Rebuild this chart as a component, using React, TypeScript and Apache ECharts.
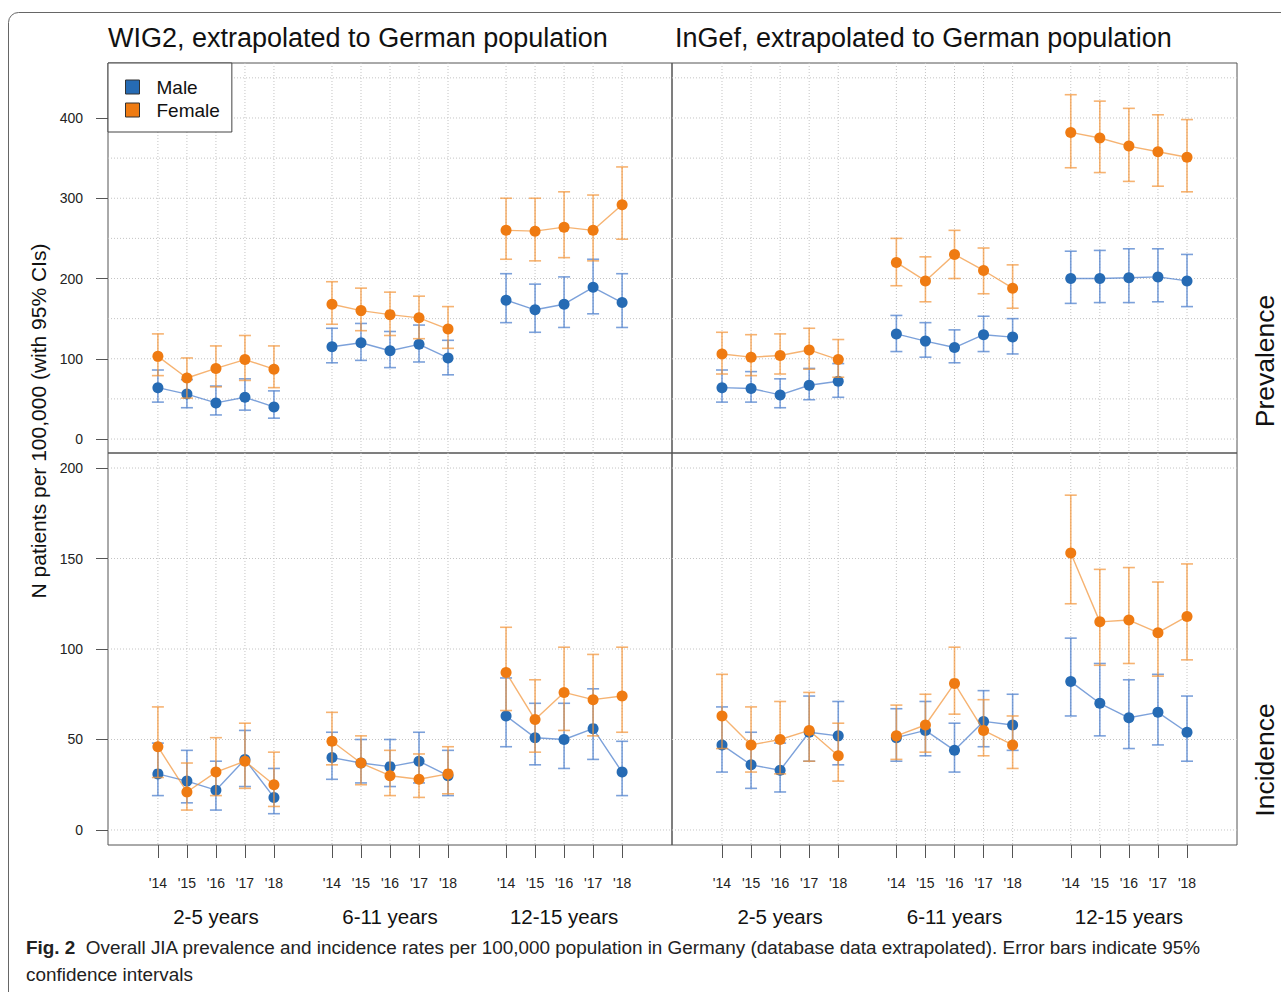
import React, { useEffect, useRef } from 'react';
import * as echarts from 'echarts';

// ---------- categories / ticks ----------
const years = ["'14", "'15", "'16", "'17", "'18"];
const ageGroups = ['2-5 years', '6-11 years', '12-15 years'];
const prevTicks = [0, 100, 200, 300, 400];
const prevGridValues = [0, 50, 100, 150, 200, 250, 300, 350, 400, 450];
const incTicks = [0, 50, 100, 150, 200];
const incGridValues = [0, 50, 100, 150, 200];

// ---------- WIG2 prevalence ----------
const wig2PrevMale = [64, 56, 45, 52, 40, 115, 120, 110, 118, 101, 173, 161, 168, 189, 170];
const wig2PrevMaleLo = [46, 39, 30, 36, 26, 95, 98, 89, 96, 80, 145, 133, 139, 156, 139];
const wig2PrevMaleHi = [86, 74, 66, 75, 60, 138, 144, 134, 142, 123, 206, 193, 202, 224, 206];
const wig2PrevFemale = [103, 76, 88, 99, 87, 168, 160, 155, 151, 137, 260, 259, 264, 260, 292];
const wig2PrevFemaleLo = [79, 51, 65, 73, 64, 143, 135, 129, 125, 113, 224, 222, 226, 222, 249];
const wig2PrevFemaleHi = [131, 101, 116, 129, 116, 196, 188, 183, 178, 165, 300, 300, 308, 304, 339];

// ---------- InGef prevalence ----------
const ingefPrevMale = [64, 63, 55, 67, 72, 131, 122, 114, 130, 127, 200, 200, 201, 202, 197];
const ingefPrevMaleLo = [46, 46, 39, 49, 52, 109, 102, 95, 109, 106, 169, 170, 170, 171, 165];
const ingefPrevMaleHi = [86, 84, 75, 88, 94, 154, 145, 136, 153, 150, 234, 235, 237, 237, 230];
const ingefPrevFemale = [106, 102, 104, 111, 99, 220, 197, 230, 210, 188, 382, 375, 365, 358, 351];
const ingefPrevFemaleLo = [81, 79, 81, 87, 77, 191, 171, 200, 181, 163, 338, 332, 321, 315, 308];
const ingefPrevFemaleHi = [133, 130, 131, 138, 124, 250, 227, 260, 238, 217, 429, 421, 412, 404, 398];

// ---------- WIG2 incidence ----------
const wig2IncMale = [31, 27, 22, 39, 18, 40, 37, 35, 38, 30, 63, 51, 50, 56, 32];
const wig2IncMaleLo = [19, 15, 11, 24, 9, 28, 26, 24, 26, 19, 46, 36, 34, 39, 19];
const wig2IncMaleHi = [48, 44, 38, 55, 34, 54, 50, 50, 54, 44, 84, 70, 70, 78, 49];
const wig2IncFemale = [46, 21, 32, 38, 25, 49, 37, 30, 28, 31, 87, 61, 76, 72, 74];
const wig2IncFemaleLo = [29, 11, 19, 23, 13, 36, 25, 19, 18, 20, 66, 43, 55, 52, 54];
const wig2IncFemaleHi = [68, 37, 51, 59, 43, 65, 52, 44, 42, 46, 112, 83, 101, 97, 101];

// ---------- InGef incidence ----------
const ingefIncMale = [47, 36, 33, 54, 52, 51, 55, 44, 60, 58, 82, 70, 62, 65, 54];
const ingefIncMaleLo = [32, 23, 21, 38, 36, 38, 41, 32, 46, 44, 63, 52, 45, 47, 38];
const ingefIncMaleHi = [68, 54, 48, 74, 71, 67, 71, 59, 77, 75, 106, 92, 83, 86, 74];
const ingefIncFemale = [63, 47, 50, 55, 41, 52, 58, 81, 55, 47, 153, 115, 116, 109, 118];
const ingefIncFemaleLo = [45, 32, 31, 38, 27, 39, 43, 64, 41, 34, 125, 91, 92, 85, 94];
const ingefIncFemaleHi = [86, 68, 71, 76, 59, 69, 75, 101, 72, 63, 185, 144, 145, 137, 147];

// ---------- styling ----------
const FONT = "'Liberation Sans', Arial, Helvetica, sans-serif";
const BLUE = '#266bb4';
const BLUE_LINE = 'rgba(80,130,205,0.75)';
const ORANGE = '#ef7b12';
const ORANGE_LINE = 'rgba(243,150,60,0.72)';
const GRID_COLOR = '#c4c4c4';
const FRAME = '#555';

const step = years.length + 1;
const xPositions = ageGroups.flatMap((_, g) => years.map((_, i) => g * step + i));
const groupCenters = ageGroups.map((_, g) => g * step + (years.length - 1) / 2);
const yearAt = (v: number) => years[Math.round(v) % step] ?? '';
const groupAt = (v: number) => ageGroups[Math.round((v - (years.length - 1) / 2) / step)] ?? '';

function lineData(vals: number[]) {
  const out: any[] = [];
  vals.forEach((v, k) => {
    if (k > 0 && k % years.length === 0) out.push([xPositions[k] - 1, '-']);
    out.push([xPositions[k], v]);
  });
  return out;
}
function errData(lo: number[], hi: number[]) {
  return lo.map((l, k) => [xPositions[k], l, hi[k]]);
}

const X_MIN = -1.72;
const X_MAX = 17.72;

const panels = [
  { male: [wig2PrevMale, wig2PrevMaleLo, wig2PrevMaleHi], female: [wig2PrevFemale, wig2PrevFemaleLo, wig2PrevFemaleHi], ticks: prevTicks, gridVals: prevGridValues, yMin: -17.4, yMax: 468.5, left: true, bottom: false },
  { male: [ingefPrevMale, ingefPrevMaleLo, ingefPrevMaleHi], female: [ingefPrevFemale, ingefPrevFemaleLo, ingefPrevFemaleHi], ticks: prevTicks, gridVals: prevGridValues, yMin: -17.4, yMax: 468.5, left: false, bottom: false },
  { male: [wig2IncMale, wig2IncMaleLo, wig2IncMaleHi], female: [wig2IncFemale, wig2IncFemaleLo, wig2IncFemaleHi], ticks: incTicks, gridVals: incGridValues, yMin: -8.3, yMax: 208.3, left: true, bottom: true },
  { male: [ingefIncMale, ingefIncMaleLo, ingefIncMaleHi], female: [ingefIncFemale, ingefIncFemaleLo, ingefIncFemaleHi], ticks: incTicks, gridVals: incGridValues, yMin: -8.3, yMax: 208.3, left: false, bottom: true },
];

const gridBoxes = [
  { left: 108, top: 63, width: 564, height: 390 },
  { left: 672, top: 63, width: 565, height: 390 },
  { left: 108, top: 453, width: 564, height: 392 },
  { left: 672, top: 453, width: 565, height: 392 },
];

function errRender(color: string) {
  return (params: any, api: any) => {
    const x = api.value(0);
    const p1 = api.coord([x, api.value(1)]);
    const p2 = api.coord([x, api.value(2)]);
    const hw = 6;
    const st = { stroke: color, lineWidth: 1.6 };
    return {
      type: 'group',
      children: [
        { type: 'line', shape: { x1: p1[0], y1: p1[1], x2: p2[0], y2: p2[1] }, style: st },
        { type: 'line', shape: { x1: p1[0] - hw, y1: p1[1], x2: p1[0] + hw, y2: p1[1] }, style: st },
        { type: 'line', shape: { x1: p2[0] - hw, y1: p2[1], x2: p2[0] + hw, y2: p2[1] }, style: st },
      ],
    };
  };
}

function gridRender(params: any, api: any) {
  const cs = params.coordSys;
  const kind = api.value(0);
  const v = api.value(1);
  const st = { stroke: GRID_COLOR, lineWidth: 1, lineDash: [1, 2] };
  if (kind === 0) {
    const px = api.coord([v, 0])[0];
    return { type: 'line', shape: { x1: px, y1: cs.y, x2: px, y2: cs.y + cs.height }, style: st };
  }
  const py = api.coord([0, v])[1];
  return { type: 'line', shape: { x1: cs.x, y1: py, x2: cs.x + cs.width, y2: py }, style: st };
}

function buildOption() {
  const grid = gridBoxes.map((g) => ({ ...g, show: true, borderColor: FRAME, borderWidth: 1, backgroundColor: 'transparent' }));

  const xAxis: any[] = panels.map((p, k) => ({
    type: 'value',
    gridIndex: k,
    position: 'bottom',
    min: X_MIN,
    max: X_MAX,
    axisLine: { show: false, onZero: false },
    splitLine: { show: false },
    axisTick: { show: p.bottom, customValues: xPositions, length: 13, lineStyle: { color: FRAME, width: 1 } },
    axisLabel: { show: p.bottom, customValues: xPositions, formatter: yearAt, margin: 31, fontSize: 14, color: '#222', fontFamily: FONT },
  }));
  panels.forEach((p, k) => {
    if (!p.bottom) return;
    xAxis.push({
      type: 'value',
      gridIndex: k,
      position: 'bottom',
      min: X_MIN,
      max: X_MAX,
      axisLine: { show: false, onZero: false },
      splitLine: { show: false },
      axisTick: { show: false },
      axisLabel: { customValues: groupCenters, formatter: groupAt, margin: 61, fontSize: 20.5, color: '#111', fontFamily: FONT },
    });
  });

  const yAxis = panels.map((p, k) => ({
    type: 'value',
    gridIndex: k,
    position: 'left',
    min: p.yMin,
    max: p.yMax,
    axisLine: { show: false, onZero: false },
    splitLine: { show: false },
    axisTick: { show: p.left, customValues: p.ticks, length: 12, lineStyle: { color: FRAME, width: 1 } },
    axisLabel: { show: p.left, customValues: p.ticks, margin: 25, fontSize: 14, color: '#222', fontFamily: FONT },
  }));

  const series: any[] = [];
  panels.forEach((p, k) => {
    const axes = { xAxisIndex: k, yAxisIndex: k };
    series.push({
      type: 'custom', ...axes, silent: true, name: 'grid' + k,
      data: [...xPositions.map((x) => [0, x]), ...p.gridVals.map((y) => [1, y])],
      renderItem: gridRender, z: 1,
    });
    series.push({
      type: 'custom', ...axes, silent: true, name: 'Male CI',
      encode: { x: 0, y: [1, 2] },
      data: errData(p.male[1], p.male[2]),
      renderItem: errRender(BLUE_LINE), z: 2,
    });
    series.push({
      type: 'line', ...axes, name: 'Male',
      data: lineData(p.male[0]),
      symbol: 'circle', symbolSize: 11, showAllSymbol: true,
      itemStyle: { color: BLUE },
      lineStyle: { color: BLUE_LINE, width: 1.4 },
      emphasis: { disabled: true }, z: 3,
    });
    series.push({
      type: 'custom', ...axes, silent: true, name: 'Female CI',
      encode: { x: 0, y: [1, 2] },
      data: errData(p.female[1], p.female[2]),
      renderItem: errRender(ORANGE_LINE), z: 4,
    });
    series.push({
      type: 'line', ...axes, name: 'Female',
      data: lineData(p.female[0]),
      symbol: 'circle', symbolSize: 11, showAllSymbol: true,
      itemStyle: { color: ORANGE },
      lineStyle: { color: ORANGE_LINE, width: 1.4 },
      emphasis: { disabled: true }, z: 5,
    });
  });

  const graphic: any[] = [
    { type: 'rect', shape: { x: 8.5, y: 12.5, width: 1300, height: 1000, r: 10 }, style: { fill: 'none', stroke: '#666', lineWidth: 1 }, silent: true, z: 0 },
    { type: 'text', x: 108, y: 38, style: { text: 'WIG2, extrapolated to German population', font: `27px ${FONT}`, fill: '#111', textVerticalAlign: 'middle' } },
    { type: 'text', x: 675, y: 38, style: { text: 'InGef, extrapolated to German population', font: `27px ${FONT}`, fill: '#111', textVerticalAlign: 'middle' } },
    { type: 'text', x: 38, y: 421, rotation: Math.PI / 2, style: { text: 'N patients per 100,000 (with 95% CIs)', font: `21px ${FONT}`, fill: '#111', textAlign: 'center', textVerticalAlign: 'middle' } },
    { type: 'text', x: 1265, y: 361, rotation: Math.PI / 2, style: { text: 'Prevalence', font: `26.5px ${FONT}`, fill: '#111', textAlign: 'center', textVerticalAlign: 'middle' } },
    { type: 'text', x: 1265, y: 760, rotation: Math.PI / 2, style: { text: 'Incidence', font: `26.5px ${FONT}`, fill: '#111', textAlign: 'center', textVerticalAlign: 'middle' } },
    {
      type: 'text', x: 26, y: 934,
      style: {
        text: '{b|Fig. 2}{n|  Overall JIA prevalence and incidence rates per 100,000 population in Germany (database data extrapolated). Error bars indicate 95%}\n{n|confidence intervals}',
        fill: '#222',
        rich: {
          b: { fontWeight: 'bold', fontSize: 18.9, fontFamily: FONT, fill: '#222', lineHeight: 27 },
          n: { fontSize: 18.9, fontFamily: FONT, fill: '#222', lineHeight: 27 },
        },
      },
    },
  ];

  return {
    animation: false,
    backgroundColor: '#fff',
    grid,
    xAxis,
    yAxis,
    series,
    graphic,
    legend: {
      left: 108, top: 63, orient: 'vertical',
      backgroundColor: '#fff', borderColor: '#444', borderWidth: 1, borderRadius: 0,
      padding: [14, 12, 12, 17],
      itemWidth: 14, itemHeight: 14, itemGap: 3,
      selectedMode: false,
      textStyle: { fontSize: 19, color: '#111', fontFamily: FONT, padding: [0, 0, 0, 12], lineHeight: 20 },
      data: [
        { name: 'Male', icon: 'rect', itemStyle: { color: BLUE, borderColor: '#333', borderWidth: 1 } },
        { name: 'Female', icon: 'rect', itemStyle: { color: ORANGE, borderColor: '#333', borderWidth: 1 } },
      ],
    },
  };
}

export default function App() {
  const ref = useRef<HTMLDivElement>(null);
  useEffect(() => {
    if (!ref.current) return;
    const chart = echarts.init(ref.current, undefined, { renderer: 'svg' });
    chart.setOption(buildOption() as any);
    return () => chart.dispose();
  }, []);
  return <div ref={ref} style={{ position: 'absolute', left: 0, top: 0, width: 1281, height: 992 }} />;
}
